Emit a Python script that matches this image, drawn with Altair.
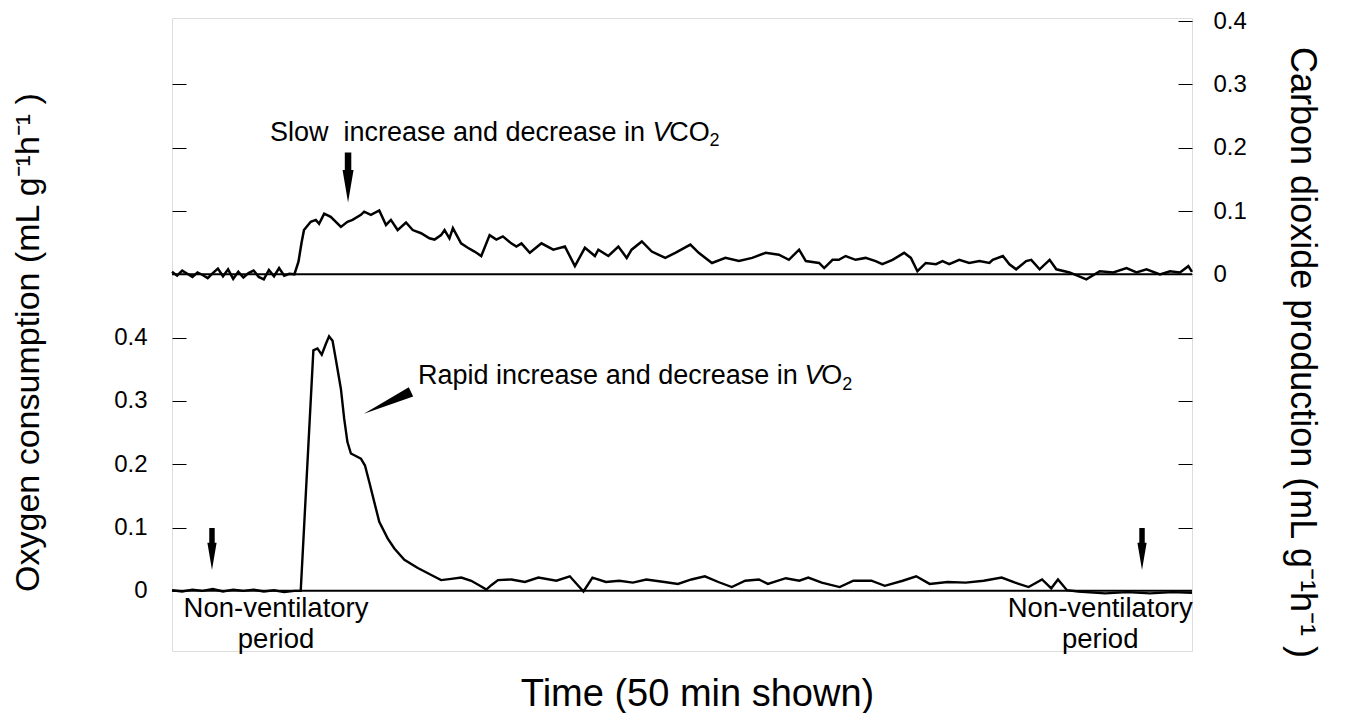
import altair as alt
import pandas as pd

FONT = "Liberation Sans"

# ---- CO2 trace (mL g-1 h-1), time in minutes ----
time_co2 = [0.0, 0.25, 0.5, 0.75, 1.0, 1.25, 1.5, 1.75, 2.0, 2.25, 2.5, 2.75, 3.0, 3.25, 3.5, 3.75,
            4.0, 4.25, 4.5, 4.75, 5.0, 5.25, 5.5, 5.75, 6.0,
            6.2, 6.35, 6.47, 6.80, 7.05, 7.21, 7.46, 7.78, 8.28, 8.60, 8.85, 9.26, 9.42, 9.75, 10.16,
            10.49, 10.73, 11.06, 11.47, 11.80, 12.21, 12.62, 12.87, 13.19, 13.36, 13.60, 13.77, 14.17,
            14.50, 14.83, 15.16, 15.57, 15.90, 16.22, 16.63, 16.88,
            17.13, 17.54, 18.11, 18.69, 19.26, 19.75, 20.24, 20.73, 20.90, 21.39, 21.88, 22.29, 22.53,
            23.03, 23.52, 24.18, 24.67, 25.41, 25.82, 26.47, 27.13, 27.79, 28.44, 29.10, 29.75, 30.24,
            30.74, 31.07, 31.72, 31.97, 32.38,
            32.69, 33.02, 33.51, 34.00, 34.49, 34.82, 35.32, 35.89, 36.22, 36.54, 36.95, 37.45, 37.77,
            38.10, 38.59, 39.08, 39.58, 40.07, 40.23, 40.73, 41.05, 41.38, 41.87, 42.12, 42.53, 43.02,
            43.35, 44.00, 44.82, 45.48, 46.14, 46.79, 47.28, 47.77, 48.43, 48.92, 49.41, 49.82, 50.0]
co2 = [0.004, -0.002, 0.006, 0.001, -0.004, 0.003, -0.001, -0.006, 0.002, 0.009, -0.003, 0.008,
       -0.007, 0.004, -0.005, 0.002, 0.006, -0.004, -0.008, 0.007, -0.003, 0.010, -0.002, 0.001, 0.000,
       0.020, 0.050, 0.070, 0.083, 0.086, 0.080, 0.096, 0.091, 0.075, 0.083, 0.086, 0.094, 0.099,
       0.094, 0.101, 0.078, 0.086, 0.070, 0.082, 0.070, 0.065, 0.057, 0.055, 0.062, 0.070, 0.057,
       0.073, 0.049, 0.042, 0.036, 0.029, 0.062, 0.055, 0.060, 0.049, 0.044,
       0.049, 0.034, 0.049, 0.039, 0.044, 0.013, 0.042, 0.029, 0.039, 0.029, 0.044, 0.026, 0.039,
       0.052, 0.036, 0.026, 0.034, 0.047, 0.034, 0.018, 0.026, 0.021, 0.026, 0.034, 0.031, 0.023,
       0.039, 0.021, 0.018, 0.010, 0.023,
       0.023, 0.029, 0.023, 0.026, 0.021, 0.016, 0.023, 0.034, 0.026, 0.005, 0.018, 0.016, 0.021,
       0.016, 0.023, 0.018, 0.021, 0.018, 0.023, 0.029, 0.016, 0.008, 0.021, 0.023, 0.008, 0.023,
       0.008, 0.003, -0.008, 0.005, 0.003, 0.010, 0.003, 0.008, 0.000, 0.005, 0.003, 0.013, 0.004]

# ---- O2 trace (mL g-1 h-1) ----
time_o2 = [0.0, 0.5, 1.0, 1.5, 2.0, 2.5, 3.0, 3.5, 4.0, 4.5, 5.0, 5.5, 6.0, 6.31,
           6.93, 7.13, 7.34, 7.54, 7.70, 7.87, 8.03, 8.28, 8.44, 8.60, 8.77, 9.01, 9.26, 9.46, 9.67,
           9.91, 10.16, 10.57, 10.90, 11.39, 12.05, 12.71, 13.19, 13.69, 14.18, 14.67, 15.16, 15.41,
           15.65, 15.98, 16.64, 17.30, 17.96, 18.84, 19.50, 20.17, 20.61, 21.27, 21.93, 22.59, 23.25,
           24.14, 24.80, 25.46, 26.12, 26.78, 27.44, 28.10, 28.77, 29.21, 30.09, 30.75, 31.19, 31.85,
           32.73, 33.40, 34.28, 34.94, 35.82, 36.48, 37.14, 38.02, 38.91, 39.79, 40.67, 41.33, 41.99,
           42.65, 43.10, 43.43, 43.87, 44.42, 45.74, 46.84, 47.94, 49.05, 50.0]
o2 = [0.001, -0.001, 0.002, 0.000, 0.003, -0.001, 0.002, 0.000, 0.002, -0.001, 0.001, -0.002, 0.000, 0.000,
      0.380, 0.383, 0.373, 0.390, 0.402, 0.395, 0.366, 0.319, 0.272, 0.235, 0.217, 0.213, 0.209, 0.198, 0.172,
      0.141, 0.109, 0.083, 0.067, 0.049, 0.036, 0.025, 0.017, 0.019, 0.021, 0.016, 0.007, 0.002,
      0.009, 0.017, 0.018, 0.014, 0.021, 0.016, 0.023, -0.001, 0.021, 0.014, 0.016, 0.013, 0.018,
      0.014, 0.011, 0.018, 0.023, 0.014, 0.006, 0.016, 0.018, 0.011, 0.020, 0.016, 0.021, 0.013,
      0.006, 0.016, 0.016, 0.008, 0.016, 0.023, 0.011, 0.014, 0.013, 0.016, 0.021, 0.013, 0.006,
      0.018, 0.004, 0.018, 0.001, -0.001, -0.004, -0.002, -0.004, -0.002, -0.003]

# ---- axis tick values ----
o2_ticks = [0, 0.1, 0.2, 0.3, 0.4]
co2_ticks = [0, 0.1, 0.2, 0.3, 0.4]
CO2_SHIFT = 0.5          # CO2 panel is stacked 0.5 units above the O2 panel
X_DOMAIN = [0, 50]
Y_DOMAIN = [-0.095, 0.905]

# ---- annotation anchors (time, stacked-y) ----
slow_text = ["Slow\u00a0 increase and decrease in", "V", "CO", "2"]
slow_t = [4.80, 23.55, 24.38, 26.35]
slow_y = [0.724, 0.724, 0.724, 0.710]
rapid_text = ["Rapid increase and decrease in", "V", "O", "2"]
rapid_t = [12.06, 31.0, 31.82, 32.85]
rapid_y = [0.339, 0.339, 0.339, 0.325]
nv_text = ["Non-ventilatory", "period", "Non-ventilatory", "period"]
nv_t = [5.10, 5.10, 45.5, 45.5]
nv_y = [-0.029, -0.077, -0.029, -0.077]
down_arrow_t = [1.96, 47.55]
down_arrow_y = [0.066, 0.066]
top_arrow_t = [8.63]
top_arrow_y = [0.653]
diag_arrow_t = [10.56]
diag_arrow_y = [0.297]

xs = alt.Scale(domain=X_DOMAIN, nice=False, zero=False)
ys = alt.Scale(domain=Y_DOMAIN, nice=False, zero=False)

x_axis = alt.Axis(title="Time (50 min shown)", domain=False, ticks=False, labels=False, grid=False,
                  titleFont=FONT, titleFontSize=38, titleFontWeight="normal", titleColor="black",
                  titlePadding=24, titleX=525)

left_vals = o2_ticks + [v + CO2_SHIFT for v in co2_ticks[1:4]]
right_vals = [v for v in o2_ticks[1:]] + [v + CO2_SHIFT for v in co2_ticks]

left_axis = alt.Axis(
    orient="left", values=left_vals, offset=-14, tickSize=14, tickColor="black", tickWidth=1,
    domain=False, grid=False, labelFont=FONT, labelFontSize=24, labelColor="black", labelPadding=25,
    labelExpr="datum.value < 0.45 ? (datum.value < 0.01 ? '0' : format(datum.value, '.1f')) : ''",
    title="Oxygen consumption (mL g⁻¹h⁻¹ )", titleFont=FONT, titleFontSize=34,
    titleFontWeight="normal", titleColor="black", titleAngle=-90, titleAlign="center",
    titleBaseline="alphabetic", titleX=-148, titleY=324,
)
right_axis = alt.Axis(
    orient="right", values=right_vals, offset=-14, tickSize=14, tickColor="black", tickWidth=1,
    domain=False, grid=False, labelFont=FONT, labelFontSize=24, labelColor="black", labelPadding=21,
    labelExpr="datum.value > 0.45 ? (datum.value < 0.51 ? '0' : format(datum.value - 0.5, '.1f')) : ''",
    title="Carbon dioxide production (mL g⁻¹h⁻¹ )", titleFont=FONT, titleFontSize=36,
    titleFontWeight="normal", titleColor="black", titleAngle=90, titleAlign="center",
    titleBaseline="alphabetic", titleX=112, titleY=334,
)

o2_df = pd.DataFrame({"t": time_o2, "v": o2})
co2_df = pd.DataFrame({"t": time_co2, "v": co2})

o2_line = alt.Chart(o2_df).mark_line(color="black", strokeWidth=2.4).encode(
    x=alt.X("t:Q", scale=xs, axis=x_axis),
    y=alt.Y("v:Q", scale=ys, axis=left_axis),
)
co2_line = alt.Chart(co2_df).transform_calculate(yp=f"datum.v + {CO2_SHIFT}").mark_line(
    color="black", strokeWidth=2.5).encode(
    x=alt.X("t:Q", scale=xs, axis=x_axis),
    y=alt.Y("yp:Q", scale=ys, axis=right_axis),
)
zero_lines = alt.Chart(pd.DataFrame({"z": [0, CO2_SHIFT]})).mark_rule(color="black", strokeWidth=2).encode(
    y=alt.Y("z:Q", scale=ys, axis=None)
)


def text_layer(texts, ts, yv, size, style="normal", align="left"):
    df = pd.DataFrame({"t": ts, "y": yv, "label": texts})
    return alt.Chart(df).mark_text(align=align, baseline="middle", font=FONT, fontSize=size,
                                   fontStyle=style, color="black").encode(
        x=alt.X("t:Q", scale=xs, axis=x_axis),
        y=alt.Y("y:Q", scale=ys, axis=None),
        text="label:N",
    )


ann_size = 27
slow_layers = [
    text_layer(slow_text[0:1], slow_t[0:1], slow_y[0:1], ann_size),
    text_layer(slow_text[1:2], slow_t[1:2], slow_y[1:2], ann_size, "italic"),
    text_layer(slow_text[2:3], slow_t[2:3], slow_y[2:3], ann_size),
    text_layer(slow_text[3:4], slow_t[3:4], slow_y[3:4], 18),
]
rapid_layers = [
    text_layer(rapid_text[0:1], rapid_t[0:1], rapid_y[0:1], ann_size),
    text_layer(rapid_text[1:2], rapid_t[1:2], rapid_y[1:2], ann_size, "italic"),
    text_layer(rapid_text[2:3], rapid_t[2:3], rapid_y[2:3], ann_size),
    text_layer(rapid_text[3:4], rapid_t[3:4], rapid_y[3:4], 18),
]
nv_layer = text_layer(nv_text, nv_t, nv_y, 27.5, align="center")

ARROW_PATH = "M-0.13,-1L0.13,-1L0.13,-0.3L0.22,-0.3L0,1L-0.22,-0.3L-0.13,-0.3Z"


def arrow_layer(ts, yv, path, length, angle=0):
    df = pd.DataFrame({"t": ts, "y": yv})
    return alt.Chart(df).mark_point(shape=path, filled=True, color="black", opacity=1,
                                    size=length * length, angle=angle, strokeWidth=0).encode(
        x=alt.X("t:Q", scale=xs, axis=x_axis),
        y=alt.Y("y:Q", scale=ys, axis=None),
    )


arrows = [
    arrow_layer(top_arrow_t, top_arrow_y, ARROW_PATH, 50),
    arrow_layer(down_arrow_t, down_arrow_y, ARROW_PATH, 42),
    arrow_layer(diag_arrow_t, diag_arrow_y, "M-0.2,-1L0.2,-1L0,1Z", 52, 65),
]

chart = alt.layer(
    zero_lines, o2_line, co2_line, *slow_layers, *rapid_layers, nv_layer, *arrows
).resolve_scale(y="shared").resolve_axis(y="independent").properties(
    width=1020, height=633,
    autosize=alt.AutoSizeParams(type="none"),
    padding={"left": 164, "top": 10, "right": 150, "bottom": 62},
).configure_view(stroke="black", strokeWidth=1.5).configure(background="white")

chart.save("out.html", embed_options={"renderer": "svg", "actions": False})
